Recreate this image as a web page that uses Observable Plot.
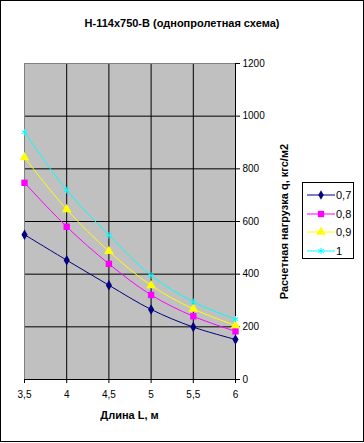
<!DOCTYPE html>
<html><head><meta charset="utf-8">
<script src="https://cdn.jsdelivr.net/npm/d3@7"></script>
<script src="https://cdn.jsdelivr.net/npm/@observablehq/plot@0.6"></script>
<style>
body{margin:0;background:#fff;font-family:"Liberation Sans",Arial,sans-serif;}
#wrap{position:relative;width:364px;height:443px;overflow:hidden;}
#border{position:absolute;left:0;top:0;width:364px;height:442px;box-sizing:border-box;border:1px solid #000;pointer-events:none;}
#title{position:absolute;left:0;width:364px;top:17px;text-align:center;font-weight:bold;font-size:11px;}
#xtitle{position:absolute;left:24px;width:211px;top:409px;text-align:center;font-weight:bold;font-size:11px;}
#chart{position:absolute;left:0;top:0;}
#legend{position:absolute;left:302px;top:182px;width:52px;height:77px;box-sizing:border-box;border:1px solid #000;background:#fff;}
#legend .row{position:absolute;left:0;height:14px;width:50px;}
#legend .row span{position:absolute;left:33px;top:0;font-size:11px;line-height:14px;}
#legend svg{position:absolute;left:3px;top:0;}
svg [aria-label="y-axis label"] text{font-weight:bold;font-size:11px;}
</style></head>
<body><div id="wrap"><div id="chart"></div><div id="title">Н-114х750-В (однопролетная схема)</div><div id="xtitle">Длина L, м</div><div id="legend"></div><div id="border"></div></div>
<script>
const lengths = [3.5, 4, 4.5, 5, 5.5, 6];
const seriesNames = ["0,7", "0,8", "0,9", "1"];
const s07 = [550, 453, 358, 266, 199, 152];
const s08 = [747, 580, 439, 321, 240, 183];
const s09 = [843, 646, 487, 357, 268, 205];
const s10 = [939, 719, 548, 395, 295, 229];
const yTicks = [0, 200, 400, 600, 800, 1000, 1200];
const colors = ["#000080", "#ff00ff", "#ffff00", "#00ffff"];
const symbols = ["diamond", "square", "triangle", "asterisk"];

const allSeries = [s07, s08, s09, s10];
const data = [];
allSeries.forEach((vals, i) => vals.forEach((v, j) => data.push({L: lengths[j], q: v, s: seriesNames[i]})));

const fmt = d => String(d).replace(".", ",");

const marks = [
  Plot.frame({fill: "#c0c0c0"}),
  Plot.gridX(lengths.slice(1, -1), {stroke: "#000", strokeOpacity: 1, strokeWidth: 1}),
  Plot.gridY(yTicks.slice(1, -1), {stroke: "#000", strokeOpacity: 1, strokeWidth: 1}),
  Plot.frame({stroke: "#808080"}),
  Plot.ruleY([0], {stroke: "#000"}),
  Plot.ruleX([6], {stroke: "#000"}),
  Plot.axisX({ticks: lengths, tickFormat: fmt, tickSize: 4, tickPadding: 7, label: null}),
  Plot.axisY({anchor: "right", ticks: yTicks, tickFormat: d => String(d), tickSize: 4, tickPadding: 3, label: "Расчетная нагрузка q, кгс/м2", labelAnchor: "center", labelOffset: 52, labelArrow: "none"})
];
seriesNames.forEach((name, i) => {
  const d = data.filter(r => r.s === name);
  marks.push(Plot.line(d, {x: "L", y: "q", stroke: colors[i], strokeWidth: 1, curve: "catmull-rom"}));
  if (symbols[i] === "asterisk") {
    marks.push(Plot.dot(d, {x: "L", y: "q", symbol: "asterisk", stroke: colors[i], r: 3, strokeWidth: 1}));
  } else {
    marks.push(Plot.dot(d, {x: "L", y: "q", symbol: symbols[i], fill: colors[i], r: symbols[i] === "diamond" ? 3.2 : 3.6}));
  }
});

const chart = Plot.plot({
  width: 364, height: 443,
  marginLeft: 24, marginRight: 129, marginTop: 63, marginBottom: 64,
  x: {domain: [3.5, 6]},
  y: {domain: [0, 1200]},
  style: {fontFamily: '"Liberation Sans", Arial, sans-serif', fontSize: "10px", background: "transparent", color: "#000"},
  marks
});
document.getElementById("chart").appendChild(chart);

// legend
const leg = document.getElementById("legend");
seriesNames.forEach((name, i) => {
  const row = document.createElement("div");
  row.className = "row";
  row.style.top = (5 + i * 18.7) + "px";
  const size = {diamond: 26, square: 40, triangle: 40, asterisk: 28}[symbols[i]];
  const sym = d3.symbol(d3[{diamond: "symbolDiamond", square: "symbolSquare", triangle: "symbolTriangle", asterisk: "symbolAsterisk"}[symbols[i]]], size)();
  const fillAttr = symbols[i] === "asterisk" ? `fill="none" stroke="${colors[i]}"` : `fill="${colors[i]}"`;
  row.innerHTML = `<svg width="30" height="14"><line x1="1" x2="29" y1="7" y2="7" stroke="${colors[i]}" stroke-width="1"/><path d="${sym}" transform="translate(15,7)" ${fillAttr}/></svg><span>${name}</span>`;
  leg.appendChild(row);
});
</script></body></html>
